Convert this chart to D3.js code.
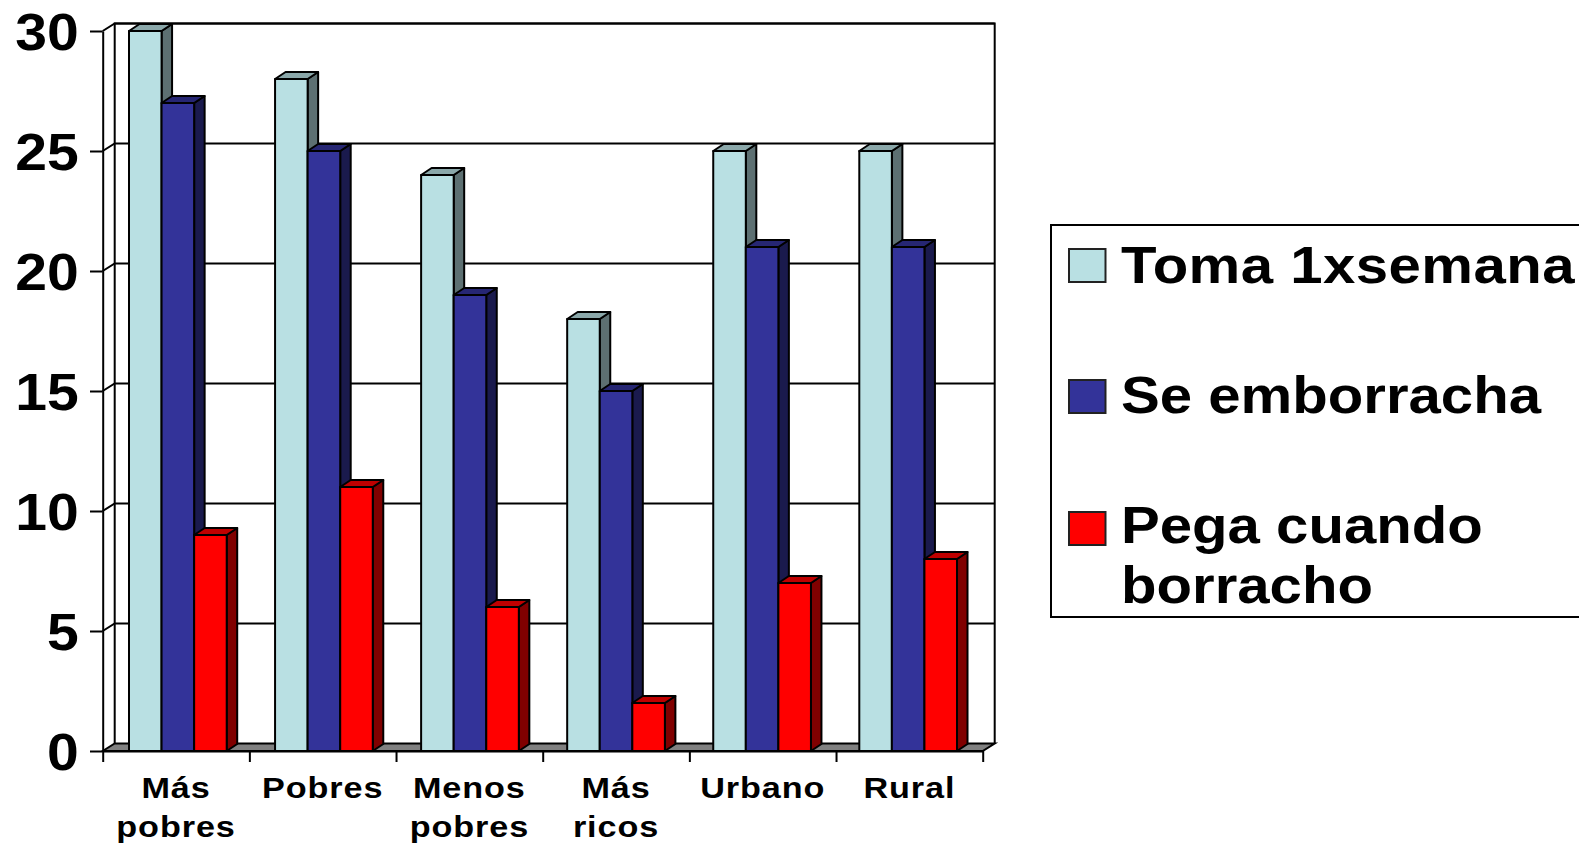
<!DOCTYPE html>
<html>
<head>
  <meta charset="utf-8">
  <style>
    html, body { margin: 0; padding: 0; background: #fff; overflow: hidden; }
    svg { display: block; }
    svg text { font-family: "Liberation Sans", Arial, sans-serif; font-weight: bold; fill: #000; }
    svg .tick line, svg .domain { stroke: #000; stroke-width: 2px; }
    svg .bar polygon { stroke: #000; stroke-width: 2px; stroke-linejoin: round; }
  </style>
</head>
<body>
  <div id="chart"></div>
  <script src="https://d3js.org/d3.v7.min.js"></script>
  <script>
  // data
  var categories = ["Más pobres", "Pobres", "Menos pobres", "Más ricos", "Urbano", "Rural"];
  var seriesNames = ["Toma 1xsemana", "Se emborracha", "Pega cuando borracho"];
  var toma = [30, 28, 24, 18, 25, 25];
  var emborracha = [27, 25, 19, 15, 21, 21];
  var pega = [9, 11, 6, 2, 7, 8];
  var yTicks = [0, 5, 10, 15, 20, 25, 30];

  var seriesValues = [toma, emborracha, pega];
  var front = ["#B9E0E3", "#333399", "#FF0000"];
  var top3d = ["#8BA8AA", "#262673", "#BF0000"];
  var side3d = ["#5D7072", "#1A1A4D", "#800000"];

  var width = 1579, height = 844;
  var stretch = 1.14;        // source text is wider than Liberation Sans
  var x0 = 102.7, x1 = 982.7, yBase = 751, yTop = 31;
  var wallDx = 12, wallDy = 7.5;    // depth of the chart box
  var barDx = 10.5, barDy = 7;      // depth of a bar

  var svg = d3.select("#chart").append("svg")
      .attr("width", width)
      .attr("height", height);

  var yScale = d3.scaleLinear().domain([0, 30]).range([yBase, yTop]);
  var xTickScale = d3.scaleLinear().domain([0, categories.length]).range([x0, x1]);

  // groups sit a little tighter than the axis ticks
  var groupScale = d3.scaleBand()
      .domain(categories)
      .range([129, 957 + 146.06 - 97.7])
      .paddingInner(0)
      .paddingOuter(0);
  var barWidth = 32.57;

  // floor
  svg.append("polygon")
      .attr("points", [[x0, yBase], [x0 + wallDx, yBase - wallDy], [x1 + wallDx, yBase - wallDy], [x1, yBase]].join(" "))
      .attr("fill", "#808080")
      .attr("stroke", "#000")
      .attr("stroke-width", 2);

  // grid lines on back wall + side wall
  svg.append("g").selectAll("path")
    .data(yTicks.filter(function (d) { return d > 0; }))
    .join("path")
      .attr("fill", "none")
      .attr("stroke", "#000")
      .attr("stroke-width", 2)
      .attr("d", function (d) {
        var y = yScale(d);
        return "M" + x0 + "," + y + "L" + (x0 + wallDx) + "," + (y - wallDy) + "L" + (x1 + wallDx) + "," + (y - wallDy);
      });

  // back wall outline
  svg.append("path")
      .attr("fill", "none")
      .attr("stroke", "#000")
      .attr("stroke-width", 2)
      .attr("d", "M" + (x0 + wallDx) + "," + (yBase - wallDy) + "V" + (yTop - wallDy) +
                 "H" + (x1 + wallDx) + "V" + (yBase - wallDy));

  // bars, left to right so each front face covers the neighbour's side
  var bars = [];
  categories.forEach(function (c, i) {
    seriesValues.forEach(function (values, s) {
      bars.push({ category: c, series: s, value: values[i] });
    });
  });

  var bar = svg.append("g").selectAll("g")
    .data(bars)
    .join("g")
      .attr("class", "bar");

  function xLeft(d) { return groupScale(d.category) + d.series * barWidth; }

  bar.append("polygon")   // side
      .attr("fill", function (d) { return side3d[d.series]; })
      .attr("points", function (d) {
        var x = xLeft(d) + barWidth, y = yScale(d.value);
        return [[x, y], [x + barDx, y - barDy], [x + barDx, yBase - barDy], [x, yBase]].join(" ");
      });

  bar.append("polygon")   // top
      .attr("fill", function (d) { return top3d[d.series]; })
      .attr("points", function (d) {
        var x = xLeft(d), y = yScale(d.value);
        return [[x, y], [x + barDx, y - barDy], [x + barWidth + barDx, y - barDy], [x + barWidth, y]].join(" ");
      });

  bar.append("polygon")   // front
      .attr("fill", function (d) { return front[d.series]; })
      .attr("points", function (d) {
        var x = xLeft(d), y = yScale(d.value);
        return [[x, y], [x + barWidth, y], [x + barWidth, yBase], [x, yBase]].join(" ");
      });

  // y axis
  var yAxis = d3.axisLeft(yScale)
      .tickValues(yTicks)
      .tickSize(12.7)
      .tickSizeOuter(0);

  var yg = svg.append("g")
      .attr("transform", "translate(" + x0 + ",0)")
      .call(yAxis);

  yg.selectAll(".tick text")
      .attr("x", 0)
      .attr("y", 0)
      .attr("dy", 0)
      .attr("text-anchor", "end")
      .attr("font-size", 51)
      .attr("transform", "translate(-24,18.5) scale(1.12,1)");

  // x axis
  var xAxis = d3.axisBottom(xTickScale)
      .tickValues(d3.range(categories.length + 1))
      .tickSize(11)
      .tickSizeOuter(0)
      .tickFormat("");

  svg.append("g")
      .attr("transform", "translate(0," + yBase + ")")
      .call(xAxis);

  // category labels wrap at the space
  var label = svg.append("g").selectAll("text")
    .data(categories)
    .join("text")
      .attr("text-anchor", "middle")
      .attr("font-size", 30)
      .attr("letter-spacing", 0.8)
      .attr("transform", function (d, i) {
        return "translate(" + xTickScale(i + 0.5) + ",797.5) scale(" + stretch + ",1)";
      });

  label.selectAll("tspan")
    .data(function (d) { return d.split(" "); })
    .join("tspan")
      .attr("x", 0)
      .attr("dy", function (d, i) { return i ? 40 : 0; })
      .text(function (d) { return d; });

  // legend - box runs off the right edge of the page
  var legend = svg.append("g");

  legend.append("path")
      .attr("fill", "#fff")
      .attr("stroke", "#000")
      .attr("stroke-width", 2)
      .attr("d", "M" + width + ",225H1051V617H" + width);

  var swatchY = [249, 380, 512];
  var textY = [[283], [413], [543, 603]];
  var textLines = [["Toma 1xsemana"], ["Se emborracha"], ["Pega cuando", "borracho"]];

  seriesNames.forEach(function (name, s) {
    legend.append("rect")
        .attr("x", 1069)
        .attr("y", swatchY[s])
        .attr("width", 36.5)
        .attr("height", 33)
        .attr("fill", front[s])
        .attr("stroke", "#222")
        .attr("stroke-width", 2);

    textLines[s].forEach(function (line, k) {
      legend.append("text")
          .attr("font-size", 51)
          .attr("letter-spacing", s == 0 ? 0.4 : 0)
          .attr("transform", "translate(1121," + textY[s][k] + ") scale(" + stretch + ",1)")
          .text(line);
    });
  });
  </script>
</body>
</html>
